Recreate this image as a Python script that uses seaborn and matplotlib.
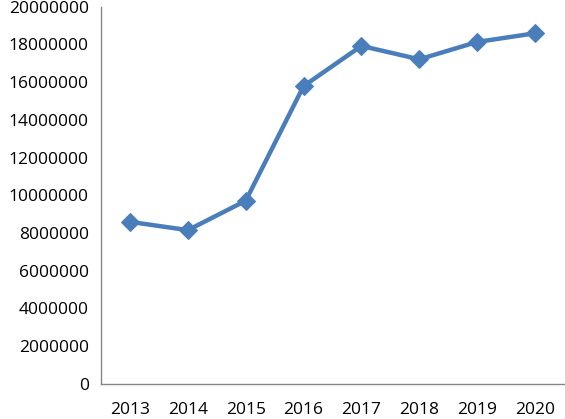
import matplotlib
matplotlib.use("Agg")
import matplotlib.pyplot as plt
import numpy as np
import pandas as pd
import seaborn as sns
from matplotlib.ticker import FixedLocator, NullFormatter

# Data
years = ["2013", "2014", "2015", "2016", "2017", "2018", "2019", "2020"]
values = [8590000, 8150000, 9710000, 15790000, 17920000, 17210000, 18130000, 18590000]

df = pd.DataFrame({"Year": years, "Value": values})

sns.set_style("white")
plt.rcParams["font.family"] = ["Open Sans", "DejaVu Sans"]

fig = plt.figure(figsize=(5.65, 4.19), dpi=100)
ax = fig.add_axes([0.179, 0.084, 0.819, 0.9])

sns.lineplot(data=df, x="Year", y="Value", ax=ax, color="#4A7EBB",
             linewidth=3.2, marker="D", markersize=9, markeredgecolor="#4A7EBB")

ax.set_xlim(-0.5, len(years) - 0.5)
ax.set_ylim(0, 20000000)
ax.set_yticks(np.arange(0, 20000001, 2000000))
ax.set_yticklabels([str(v) for v in range(0, 20000001, 2000000)])

# category labels centered, tick marks at boundaries
ax.xaxis.set_major_locator(FixedLocator(np.arange(-0.5, len(years), 1.0)))
ax.xaxis.set_major_formatter(NullFormatter())
ax.xaxis.set_minor_locator(FixedLocator(np.arange(len(years))))
ax.set_xticklabels(years, minor=True)
ax.tick_params(axis="x", which="minor", length=0, pad=13, labelsize=12.5, labelcolor="black")
ax.tick_params(axis="x", which="major", length=5, direction="out", color="#868686", width=1)
ax.tick_params(axis="y", length=5, direction="out", color="#868686", width=1,
               labelsize=12.5, pad=4, labelcolor="black")

ax.set_xlabel("")
ax.set_ylabel("")
for s in ["top", "right"]:
    ax.spines[s].set_visible(False)
for s in ["left", "bottom"]:
    ax.spines[s].set_color("#868686")
    ax.spines[s].set_linewidth(1)

fig.savefig("out.png", dpi=100)
